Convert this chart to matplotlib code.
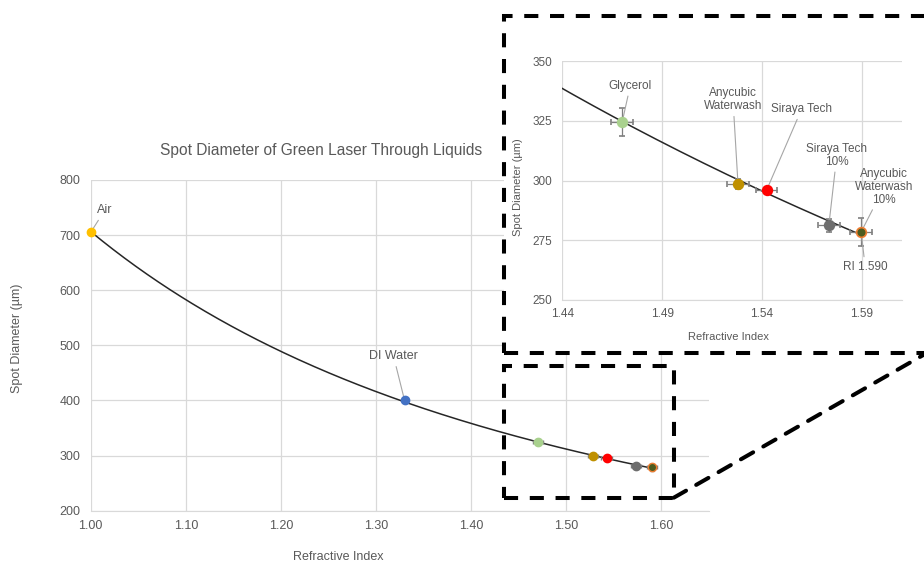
import numpy as np
import matplotlib.pyplot as plt
from matplotlib.patches import Rectangle, ConnectionPatch

plt.rcParams['font.family'] = ['Liberation Sans', 'DejaVu Sans']

# dane z wykresu
names = ['Air', 'DI Water', 'Glycerol', 'Anycubic\nWaterwash', 'Siraya Tech',
         'Siraya Tech\n10%', 'Anycubic\nWaterwash\n10%']
ri = [1.000, 1.330, 1.470, 1.528, 1.5423, 1.5735, 1.5897]
spot = [705.0, 400.0, 324.5, 298.6, 295.9, 281.2, 278.5]
ri_err = [0.0, 0.0, 0.0055, 0.0055, 0.0054, 0.0054, 0.0054]
spot_err = [1.5, 2.0, 6.0, 2.2, 1.2, 2.6, 5.8]
face = ['#FFC000', '#4472C4', '#A9D18E', '#BF9000', '#FF0000', '#6E6E6E', '#4C5B1F']
edge = ['#FFC000', '#4472C4', '#A9D18E', '#BF9000', '#FF0000', '#6E6E6E', '#ED7D31']

main_xticks = [1.00, 1.10, 1.20, 1.30, 1.40, 1.50, 1.60]
main_yticks = [200, 300, 400, 500, 600, 700, 800]
zoom_xticks = [1.44, 1.49, 1.54, 1.59]
zoom_yticks = [250, 275, 300, 325, 350]

# linia trendu (potegowa, jak w Excelu)
b, a = np.polyfit(np.log(ri), np.log(spot), 1)
xs = np.linspace(ri[0], ri[-1], 300)
ys = np.exp(a) * xs ** b

grey = '#595959'
grid = '#D9D9D9'
W, H = 924, 564

fig = plt.figure(figsize=(9.24, 5.64), dpi=100)


def style(ax, xt, yt, fmt, fs, padx, pady):
    ax.set_xticks(xt)
    ax.set_yticks(yt)
    ax.set_xticklabels([fmt % v for v in xt])
    ax.grid(True, color=grid, lw=0.9)
    ax.set_axisbelow(True)
    for s in ['top', 'right', 'left']:
        ax.spines[s].set_visible(False)
    ax.spines['bottom'].set_color(grid)
    ax.tick_params(length=0, colors=grey, labelsize=fs)
    ax.tick_params(axis='x', pad=padx)
    ax.tick_params(axis='y', pad=pady)


# glowny wykres
ax = fig.add_axes([90.7 / W, 1 - 510.7 / H, 618.3 / W, 330.7 / H])
ax.set_xlim(1.0, 1.65)
ax.set_ylim(200, 800)
style(ax, main_xticks, main_yticks, '%.2f', 9, 7, 7.5)
ax.plot(xs, ys, color='#262626', lw=1.1, zorder=2)
for i in range(len(ri)):
    ax.errorbar(ri[i], spot[i], xerr=ri_err[i], yerr=spot_err[i], fmt='o', ms=6,
                mfc=face[i], mec=edge[i], ecolor='#7F7F7F', elinewidth=0.8,
                capsize=1.5, zorder=3, clip_on=False)

lead = dict(arrowstyle='-', color='#A6A6A6', lw=0.8, shrinkA=1, shrinkB=3)
ax.annotate('Air', (ri[0], spot[0]), xytext=(14, 22), textcoords='offset pixels',
            ha='center', va='center', fontsize=9, color=grey, arrowprops=lead)
ax.annotate('DI Water', (ri[1], spot[1]), xytext=(-11, 44), textcoords='offset pixels',
            ha='center', va='center', fontsize=9, color=grey, arrowprops=lead)

fig.text(321 / W, 1 - 151 / H, 'Spot Diameter of Green Laser Through Liquids',
         ha='center', va='center', fontsize=11.2, color=grey)
fig.text(17 / W, 1 - 338 / H, 'Spot Diameter (µm)', rotation=90,
         ha='center', va='center', fontsize=9, color=grey)
fig.text(338 / W, 1 - 557 / H, 'Refractive Index',
         ha='center', va='center', fontsize=9, color=grey)

# biale tlo pod powiekszeniem
cover = fig.add_axes([504 / W, 1 - 353 / H, 1 - 504 / W, 337 / H], zorder=2)
cover.set_facecolor('white')
cover.axis('off')
cover.add_patch(Rectangle((0, 0), 1, 1, transform=cover.transAxes, color='white'))

# powiekszenie
ins = fig.add_axes([562.3 / W, 1 - 300 / H, 339.4 / W, 239 / H], zorder=3)
ins.set_xlim(1.44, 1.61)
ins.set_ylim(250, 350)
style(ins, zoom_xticks, zoom_yticks, '%.2f', 8.5, 6, 7.5)
ins.plot(xs, ys, color='#262626', lw=1.1, zorder=2)
for i in range(2, len(ri)):
    ins.errorbar(ri[i], spot[i], xerr=ri_err[i], yerr=spot_err[i], fmt='o', ms=7,
                 mfc=face[i], mec=edge[i], mew=1.2, ecolor='#7F7F7F', elinewidth=0.9,
                 capsize=2.5, zorder=3)

offs = [None, None, (8, 36), (-5, 84), (35, 81), (8, 70), (23, 45)]
for i in range(2, len(ri)):
    ins.annotate(names[i], (ri[i], spot[i]), xytext=offs[i], textcoords='offset pixels',
                 ha='center', va='center', fontsize=8.5, color=grey, arrowprops=lead,
                 linespacing=1.1)
ins.annotate('RI 1.590', (ri[-1], spot[-1]), xytext=(4, -35), textcoords='offset pixels',
             ha='center', va='center', fontsize=8.5, color=grey, arrowprops=lead)

fig.text(518 / W, 1 - 187 / H, 'Spot Diameter (µm)', rotation=90,
         ha='center', va='center', fontsize=8, color=grey, zorder=4)
fig.text(728 / W, 1 - 336.5 / H, 'Refractive Index',
         ha='center', va='center', fontsize=8, color=grey, zorder=4)

# przerywane ramki
dash = dict(fill=False, ec='black', lw=2.9, ls=(0, (3.5, 2.9)), capstyle='butt')
fig.patches.append(Rectangle((504 / W, 1 - 353 / H), 430 / W, 337 / H,
                             transform=fig.transFigure, zorder=5, **dash))
ax.add_patch(Rectangle((1.434, 223.6), 0.179, 238.2, clip_on=False, zorder=5, **dash))
con = ConnectionPatch(xyA=(1.613, 223.6), coordsA=ax.transData,
                      xyB=(923.3 / W, 1 - 355 / H), coordsB=fig.transFigure,
                      color='black', lw=2.9, ls=(0, (3.5, 2.9)), zorder=5)
fig.add_artist(con)

fig.savefig('out.png', dpi=100)
